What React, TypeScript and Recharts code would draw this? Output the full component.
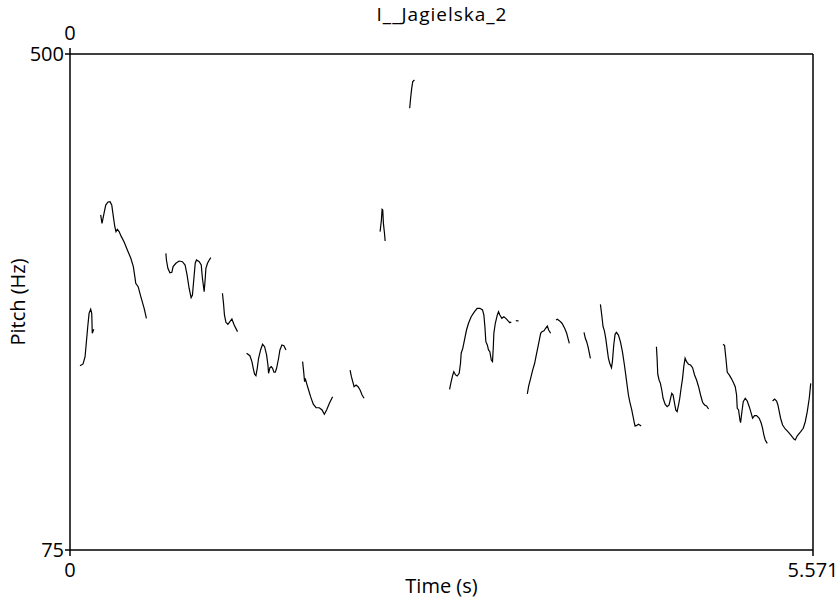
import { LineChart, Line, XAxis, YAxis } from 'recharts';

// Pitch track, one array per voiced stretch: [time (s), pitch (Hz)]
const seg1 = [[0.075, 232.9], [0.098, 234.4], [0.113, 240.6], [0.122, 252.1], [0.133, 266.3], [0.143, 277.8], [0.155, 281.3], [0.163, 277.8], [0.167, 260.7], [0.178, 264.1]];
const seg2 = [[0.23, 362.1], [0.24, 354.9], [0.255, 363.5], [0.268, 370.6], [0.285, 373.2], [0.3, 373.5], [0.313, 370.6], [0.325, 360.6], [0.336, 352.0], [0.345, 347.8], [0.355, 349.8], [0.368, 347.8], [0.385, 343.5], [0.405, 339.2], [0.43, 332.1], [0.456, 325.0], [0.475, 317.8], [0.488, 307.8], [0.493, 303.5], [0.511, 300.6], [0.531, 292.1], [0.556, 282.1], [0.573, 273.5]];
const seg3 = [[0.719, 329.2], [0.723, 323.5], [0.734, 316.4], [0.749, 312.6], [0.764, 313.0], [0.773, 317.8], [0.794, 320.7], [0.818, 322.6], [0.843, 322.0], [0.863, 319.2], [0.878, 310.6], [0.893, 299.3], [0.908, 291.2], [0.918, 293.5], [0.929, 307.8], [0.939, 320.7], [0.948, 323.5], [0.969, 322.0], [0.984, 319.2], [0.993, 307.8], [1.006, 296.3], [1.014, 307.8], [1.019, 316.4], [1.031, 320.7], [1.044, 323.5], [1.056, 325.5]];
const seg4 = [[1.143, 295.0], [1.151, 286.4], [1.158, 276.4], [1.169, 270.1], [1.184, 268.4], [1.199, 270.6], [1.214, 272.9], [1.231, 267.8], [1.256, 262.1]];
const seg5 = [[1.324, 243.6], [1.349, 241.5], [1.364, 236.4], [1.374, 230.7], [1.384, 225.6], [1.394, 224.4], [1.404, 230.7], [1.414, 239.3], [1.429, 246.4], [1.444, 251.3], [1.459, 249.2], [1.474, 242.1], [1.484, 233.5], [1.489, 226.4], [1.499, 231.2], [1.509, 232.1], [1.519, 230.7], [1.529, 227.3], [1.539, 227.3], [1.549, 230.7], [1.564, 239.3], [1.574, 246.4], [1.589, 250.7], [1.604, 250.1], [1.619, 246.4]];
const seg6 = [[1.744, 236.4], [1.752, 227.8], [1.759, 219.2], [1.764, 222.1], [1.774, 217.8], [1.789, 212.1], [1.804, 206.4], [1.824, 199.9], [1.845, 196.9], [1.869, 196.9], [1.89, 195.0], [1.907, 191.3], [1.924, 195.0], [1.945, 200.7], [1.969, 206.4]];
const seg7 = [[2.1, 229.2], [2.11, 223.5], [2.12, 219.2], [2.13, 214.9], [2.145, 216.4], [2.16, 214.9], [2.175, 212.1], [2.19, 207.8], [2.205, 205.0]];
const seg8 = [[2.325, 347.8], [2.335, 357.8], [2.34, 366.9], [2.345, 366.3], [2.35, 354.9], [2.358, 346.4], [2.363, 339.8]];
const seg9 = [[2.547, 453.5], [2.555, 463.4], [2.562, 470.6], [2.57, 476.3], [2.583, 477.7]];
const seg10 = [[2.846, 212.7], [2.858, 219.2], [2.87, 225.0], [2.878, 227.8], [2.891, 225.0], [2.903, 224.1], [2.918, 226.4], [2.928, 235.0], [2.933, 243.6], [2.945, 247.8], [2.958, 255.0], [2.973, 263.5], [2.988, 269.3], [3.008, 274.9], [3.033, 279.2], [3.053, 282.1], [3.073, 282.1], [3.093, 280.7], [3.103, 276.4], [3.111, 266.3], [3.118, 253.5], [3.129, 250.7], [3.138, 246.4], [3.148, 244.9], [3.159, 237.8], [3.168, 236.4], [3.174, 249.2], [3.178, 260.7], [3.189, 269.3], [3.204, 276.4], [3.213, 279.2], [3.223, 276.4], [3.238, 273.5], [3.253, 274.9], [3.268, 273.5], [3.283, 271.5], [3.298, 269.8], [3.309, 270.4]];
const seg11 = [[3.343, 271.5], [3.364, 271.2]];
const seg12 = [[3.429, 208.7], [3.439, 215.5], [3.454, 222.1], [3.469, 229.2], [3.484, 235.0], [3.499, 243.6], [3.514, 252.1], [3.529, 260.7], [3.539, 262.1], [3.554, 262.9], [3.566, 265.0], [3.579, 266.9], [3.589, 263.5], [3.604, 260.7]];
const seg13 = [[3.644, 272.1], [3.654, 272.7], [3.669, 271.5], [3.689, 269.3], [3.709, 265.0], [3.724, 260.7], [3.734, 256.4], [3.744, 252.1]];
const seg14 = [[3.854, 261.5], [3.864, 256.4], [3.874, 253.5], [3.884, 249.2], [3.894, 243.6], [3.902, 239.3]];
const seg15 = [[3.977, 285.5], [3.987, 276.4], [3.997, 266.3], [4.007, 262.7], [4.017, 256.4], [4.027, 247.8], [4.037, 239.3], [4.047, 235.0], [4.06, 231.2], [4.067, 236.4], [4.077, 250.7], [4.087, 259.8], [4.097, 261.5], [4.112, 259.2], [4.127, 253.5], [4.142, 244.9], [4.157, 233.5], [4.167, 225.0], [4.177, 216.4], [4.187, 207.8], [4.197, 202.1], [4.212, 195.0], [4.222, 189.2], [4.232, 183.6], [4.237, 181.3], [4.247, 181.5], [4.262, 182.7], [4.272, 182.1], [4.282, 181.3]];
const seg16 = [[4.397, 249.2], [4.402, 239.3], [4.407, 225.6], [4.417, 220.7], [4.427, 217.8], [4.437, 212.1], [4.447, 205.0], [4.462, 199.9], [4.477, 197.8], [4.492, 199.3], [4.503, 205.0], [4.512, 209.3], [4.522, 207.8], [4.533, 200.7], [4.542, 195.0], [4.552, 193.5], [4.563, 199.3], [4.572, 205.0], [4.582, 213.6], [4.593, 222.1], [4.602, 232.1], [4.612, 239.3], [4.623, 236.4], [4.638, 234.1], [4.653, 233.5], [4.668, 231.2], [4.683, 225.0], [4.698, 220.7], [4.713, 214.9], [4.728, 207.8], [4.743, 201.6], [4.758, 199.3], [4.773, 198.4], [4.788, 195.8]];
const seg17 = [[4.897, 251.3], [4.908, 250.1], [4.918, 239.3], [4.928, 227.3], [4.943, 225.0], [4.958, 222.1], [4.973, 218.7], [4.988, 214.9], [4.998, 207.8], [5.003, 196.4], [5.013, 195.0], [5.023, 186.4], [5.028, 184.1], [5.038, 193.5], [5.048, 202.1], [5.063, 205.0], [5.078, 202.7], [5.093, 197.8], [5.108, 192.1], [5.118, 187.9], [5.133, 190.1], [5.148, 190.1], [5.168, 187.9], [5.183, 183.6], [5.193, 179.3], [5.203, 173.5], [5.213, 169.3], [5.228, 166.4]];
const seg18 = [[5.268, 202.7], [5.283, 204.4], [5.298, 202.7], [5.308, 199.3], [5.318, 193.5], [5.328, 187.9], [5.343, 182.1], [5.363, 178.7], [5.383, 176.4], [5.408, 172.9], [5.428, 170.1], [5.438, 169.3], [5.453, 172.9], [5.479, 176.4], [5.498, 179.3], [5.513, 184.9], [5.528, 193.5], [5.543, 205.0], [5.554, 217.8]];

const segments = [seg1, seg2, seg3, seg4, seg5, seg6, seg7, seg8, seg9, seg10, seg11, seg12, seg13, seg14, seg15, seg16, seg17, seg18];

const timeTicks = [0, 5.571];
const pitchTicks = [75, 500];
const title = 'I__Jagielska_2';

const FONT = '"Open Sans", sans-serif';

export default function App() {
  // one row per point, with a null row between stretches so the line breaks
  const data: { t: number; f: number | null }[] = [];
  segments.forEach((seg) => {
    seg.forEach(([t, f]) => data.push({ t, f }));
    data.push({ t: seg[seg.length - 1][0], f: null });
  });

  const tickStyle = { fill: '#000', fontSize: 20, fontFamily: FONT };

  return (
    <div style={{ position: 'absolute', left: 0, top: 0, width: 837, height: 600, background: '#fff' }}>
      <div
        style={{
          position: 'absolute',
          left: 71,
          width: 742,
          top: 2,
          textAlign: 'center',
          fontFamily: FONT,
          fontSize: 19,
          letterSpacing: 1,
          lineHeight: '24px',
          color: '#000',
        }}
      >
        {title}
      </div>
      <LineChart width={837} height={600} data={data} margin={{ top: 24, right: 23, left: 10, bottom: 20 }}>
        <XAxis
          dataKey="t"
          type="number"
          domain={[0, 5.571]}
          ticks={timeTicks}
          tickFormatter={(v: number) => String(v)}
          stroke="#000"
          strokeWidth={1.5}
          tickSize={6}
          tickMargin={7}
          tick={tickStyle}
          height={30}
          label={{ value: 'Time (s)', position: 'insideBottom', offset: -13, fill: '#000', fontSize: 20, fontFamily: FONT }}
        />
        <XAxis
          xAxisId="top"
          orientation="top"
          dataKey="t"
          type="number"
          domain={[0, 5.571]}
          ticks={[0]}
          stroke="#000"
          strokeWidth={1.5}
          tickSize={6}
          tickMargin={8}
          tick={tickStyle}
          height={30}
        />
        <YAxis
          type="number"
          domain={[75, 500]}
          ticks={pitchTicks}
          stroke="#000"
          strokeWidth={1.5}
          tickSize={5}
          tickMargin={1}
          tick={tickStyle}
          width={60}
          label={{ value: 'Pitch (Hz)', angle: -90, position: 'insideLeft', offset: 8, fill: '#000', fontSize: 20, fontFamily: FONT, style: { textAnchor: 'middle' } }}
        />
        <YAxis yAxisId="right" orientation="right" domain={[75, 500]} tick={false} stroke="#000" strokeWidth={1.5} tickLine={false} width={1} />
        <Line
          dataKey="f"
          type="linear"
          stroke="#000"
          strokeWidth={1.2}
          dot={false}
          activeDot={false}
          connectNulls={false}
          isAnimationActive={false}
        />
      </LineChart>
    </div>
  );
}
